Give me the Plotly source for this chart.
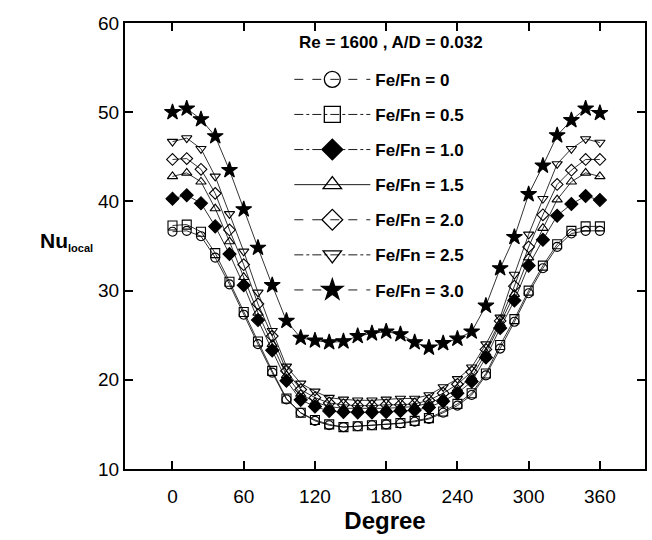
import plotly.graph_objects as go

degree = list(range(0, 361, 12))

nu_0 = [36.6, 36.7, 36.1, 33.7, 30.7, 27.3, 24.0, 20.8, 17.8, 16.3, 15.4, 14.9, 14.7, 14.8, 14.9, 15.0,
        15.1, 15.3, 15.6, 16.3, 17.1, 18.3, 20.5, 23.5, 26.5, 29.7, 32.5, 34.9, 36.4, 36.7, 36.7]
nu_05 = [37.3, 37.4, 36.6, 34.2, 31.0, 27.6, 24.3, 21.0, 17.9, 16.3, 15.5, 15.0, 14.7, 14.8, 14.9, 15.0,
         15.15, 15.4, 15.7, 16.45, 17.3, 18.5, 20.7, 23.9, 26.8, 30.0, 32.8, 35.2, 36.7, 37.2, 37.2]
nu_10 = [40.3, 40.7, 39.8, 37.2, 34.1, 30.6, 26.7, 23.3, 19.9, 17.75, 17.0, 16.5, 16.4, 16.35, 16.35, 16.4,
         16.5, 16.6, 16.9, 17.6, 18.5, 19.8, 22.5, 25.8, 28.9, 32.8, 35.7, 38.4, 39.7, 40.6, 40.15]
nu_15 = [42.8, 43.2, 42.2, 39.2, 35.5, 31.5, 27.5, 24.0, 20.5, 18.4, 17.5, 17.0, 16.8, 16.8, 16.8, 16.8,
         16.9, 17.0, 17.4, 18.0, 19.0, 20.3, 23.0, 26.3, 29.6, 33.7, 37.0, 40.2, 42.2, 43.2, 42.8]
nu_20 = [44.7, 44.8, 43.6, 40.9, 36.8, 32.9, 28.5, 24.9, 21.0, 18.9, 18.0, 17.4, 17.2, 17.1, 17.1, 17.2,
         17.2, 17.3, 17.7, 18.5, 19.5, 20.9, 23.4, 26.6, 30.5, 34.9, 38.5, 41.9, 43.5, 44.7, 44.7]
nu_25 = [46.7, 47.1, 45.9, 42.8, 38.6, 34.4, 29.8, 25.5, 21.5, 19.6, 18.7, 18.0, 17.8, 17.7, 17.7, 17.8,
         17.9, 17.9, 18.3, 19.2, 20.1, 21.4, 24.0, 27.0, 31.8, 36.3, 40.3, 44.2, 45.9, 47.0, 46.6]
nu_30 = [50.0, 50.4, 49.2, 47.3, 43.5, 39.1, 34.8, 30.6, 26.6, 24.7, 24.4, 24.2, 24.3, 24.9, 25.2, 25.4,
         25.1, 24.2, 23.6, 24.1, 24.6, 25.4, 28.3, 32.5, 36.0, 40.8, 44.0, 47.4, 49.1, 50.4, 49.9]

labels = ["Fe/Fn = 0", "Fe/Fn = 0.5", "Fe/Fn = 1.0", "Fe/Fn = 1.5", "Fe/Fn = 2.0", "Fe/Fn = 2.5", "Fe/Fn = 3.0"]
series = [nu_0, nu_05, nu_10, nu_15, nu_20, nu_25, nu_30]
symbols = ["circle-open", "square-open", "diamond", "triangle-up-open", "diamond-open", "triangle-down-open", "star"]
dashes = ["dash", "dashdot", "dashdot", "solid", "dash", "dashdot", "dash"]
sizes = [9, 9, 10, 9, 9, 9, 12]

FONT = "Arial, Liberation Sans, sans-serif"

fig = go.Figure()
for i, (lab, ys) in enumerate(zip(labels, series)):
    # data trace
    fig.add_trace(go.Scatter(
        x=degree, y=ys, name=lab, mode="lines+markers", showlegend=False,
        line=dict(color="black", width=0.8),
        marker=dict(symbol=symbols[i], size=sizes[i], color="black",
                    line=dict(color="black", width=1.1)),
    ))
    # legend entry with larger symbol and the legend's line style
    fig.add_trace(go.Scatter(
        x=[None], y=[None], name=f"<b>{lab}</b>", mode="lines+markers",
        legendgroup=str(i), showlegend=True,
        line=dict(color="black", width=0.9, dash=dashes[i]),
        marker=dict(symbol=symbols[i], size=16, color="black",
                    line=dict(color="black", width=1.3)),
    ))

axis_common = dict(
    showline=True, linecolor="black", linewidth=2, mirror="ticks",
    ticks="inside", ticklen=8, tickwidth=1.5, tickcolor="black",
    showgrid=False, zeroline=False,
    tickfont=dict(family=FONT, size=19, color="black"),
)

fig.update_layout(
    width=652, height=540,
    margin=dict(l=125, r=5, t=23, b=71),
    paper_bgcolor="white", plot_bgcolor="white",
    font=dict(family=FONT, color="black"),
    xaxis=dict(range=[-40, 398], tickvals=[0, 60, 120, 180, 240, 300, 360],
               ticklabelstandoff=9,
               title=dict(text="<b>Degree</b>", font=dict(family=FONT, size=24), standoff=2),
               **axis_common),
    yaxis=dict(range=[10, 60], tickvals=[10, 20, 30, 40, 50, 60], **axis_common),
    legend=dict(x=0.316, y=0.913, xanchor="left", yanchor="top",
                bgcolor="rgba(0,0,0,0)", borderwidth=0,
                font=dict(family=FONT, size=17, color="black"),
                traceorder="grouped", tracegroupgap=10, itemwidth=76),
    showlegend=True,
    annotations=[
        dict(text="<b>Re = 1600 , A/D = 0.032</b>", xref="paper", yref="paper",
             x=0.511, y=(469 - 42) / 446, yanchor="middle", showarrow=False,
             font=dict(family=FONT, size=17)),
        dict(text="<b>Nu</b><sub><span style='font-size:11px'><b>local</b></span></sub>",
             xref="paper", yref="paper",
             x=(66 - 125) / 522, y=0.51, xanchor="center", showarrow=False,
             font=dict(family=FONT, size=21)),
    ],
)

fig.write_html("out.html")
